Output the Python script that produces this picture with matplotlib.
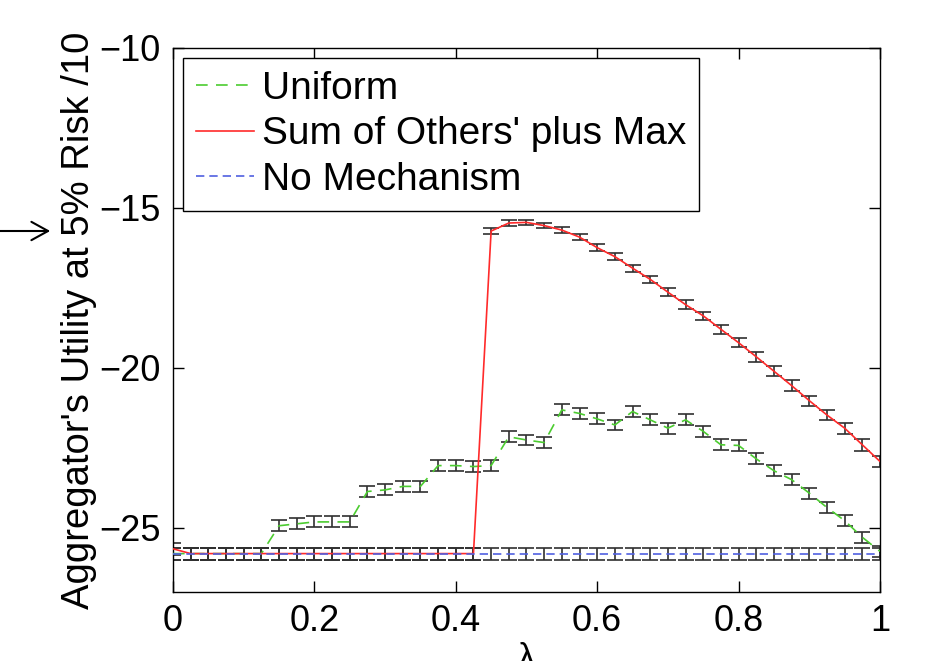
import numpy as np
import matplotlib
matplotlib.use("Agg")
import matplotlib.pyplot as plt

plt.rcParams['font.family'] = ['Liberation Sans', 'DejaVu Sans']

# lambda values, step 0.025
lam = np.linspace(0, 1, 41)

no_mech = [-25.8] * 41
no_mech_err = [0.19] * 41

uniform = [-25.8, -25.8, -25.8, -25.8, -25.8, -25.8,
           -24.93, -24.87, -24.81, -24.81, -24.81,
           -23.86, -23.81, -23.70, -23.70, -23.05, -23.05, -23.08,
           -23.05, -22.15, -22.25, -22.33, -21.31, -21.42, -21.59,
           -21.78, -21.36, -21.62, -21.88, -21.62, -21.98, -22.40,
           -22.42, -22.84, -23.21, -23.49, -23.91, -24.36, -24.77,
           -25.29, -25.73]
uniform_err = [0.19] * 6 + [0.17] * 35

sum_others = [-25.65, -25.8, -25.8, -25.8, -25.8, -25.8, -25.8, -25.8,
              -25.8, -25.8, -25.8, -25.8, -25.8, -25.8, -25.8, -25.8,
              -25.8, -25.8,
              -15.72, -15.47, -15.45, -15.55, -15.69, -15.91, -16.24,
              -16.52, -16.88, -17.23, -17.63, -18.02, -18.37, -18.79,
              -19.21, -19.65, -20.10, -20.55, -21.02, -21.47, -21.88,
              -22.40, -22.92]
sum_others_err = [0.19] * 18 + [0.09, 0.08, 0.08, 0.09, 0.09, 0.10, 0.10,
                                0.11, 0.11, 0.12, 0.12, 0.13, 0.13, 0.14,
                                0.14, 0.15, 0.15, 0.16, 0.16, 0.17, 0.17,
                                0.18, 0.18]

fig = plt.figure(figsize=(9.26, 6.61), dpi=100)
ax = fig.add_axes([0.1868, 0.1044, 0.7635, 0.8230])

# error bars first, lines drawn on top
ebar = dict(fmt='none', ecolor='#303030', elinewidth=1.2, capsize=6,
            capthick=1.2, zorder=2)
ax.errorbar(lam, uniform, yerr=uniform_err, **ebar)
ax.errorbar(lam, sum_others, yerr=sum_others_err, **ebar)
ax.errorbar(lam, no_mech, yerr=no_mech_err, **ebar)

ax.plot(lam, uniform, color='#4ccc30', linestyle=(0, (7, 5)), lw=1.2,
        label='Uniform', zorder=3)
ax.plot(lam, sum_others, color='#ff2a2a', lw=1.2,
        label="Sum of Others' plus Max", zorder=3)
ax.plot(lam, no_mech, color='#5060e0', linestyle=(0, (5, 3)), lw=1.2,
        label='No Mechanism', zorder=3)

ax.set_xlim(0, 1)
ax.set_ylim(-27, -10)
ax.set_xticks([0, 0.2, 0.4, 0.6, 0.8, 1.0], labels=['0', '0.2', '0.4', '0.6', '0.8', '1'])
ax.set_yticks([-25, -20, -15, -10])
ax.tick_params(direction='in', length=8, width=1, top=True, right=True,
               labelsize=26, pad=9)
for s in ax.spines.values():
    s.set_linewidth(1)

ax.set_ylabel("Aggregator's Utility at 5% Risk /10", fontsize=27.5)
ax.yaxis.set_label_coords(-0.108, 0.5)
ax.set_xlabel('λ', fontsize=25, labelpad=2)

leg = ax.legend(loc='upper left', fontsize=28, frameon=True, fancybox=False,
                edgecolor='black', framealpha=1, borderpad=0.33,
                handlelength=1.5, handletextpad=0.2, labelspacing=0.25,
                borderaxespad=0.25)
leg.get_frame().set_linewidth(1)

# stray arrow at the left edge
fig.add_artist(plt.matplotlib.patches.FancyArrowPatch(
    (-5 / 926, 1 - 231 / 661), (53 / 926, 1 - 231 / 661),
    transform=fig.transFigure, arrowstyle='->,head_length=0.6,head_width=0.33',
    mutation_scale=20, lw=1.5, color='black'))

fig.savefig('out.png', dpi=100)
